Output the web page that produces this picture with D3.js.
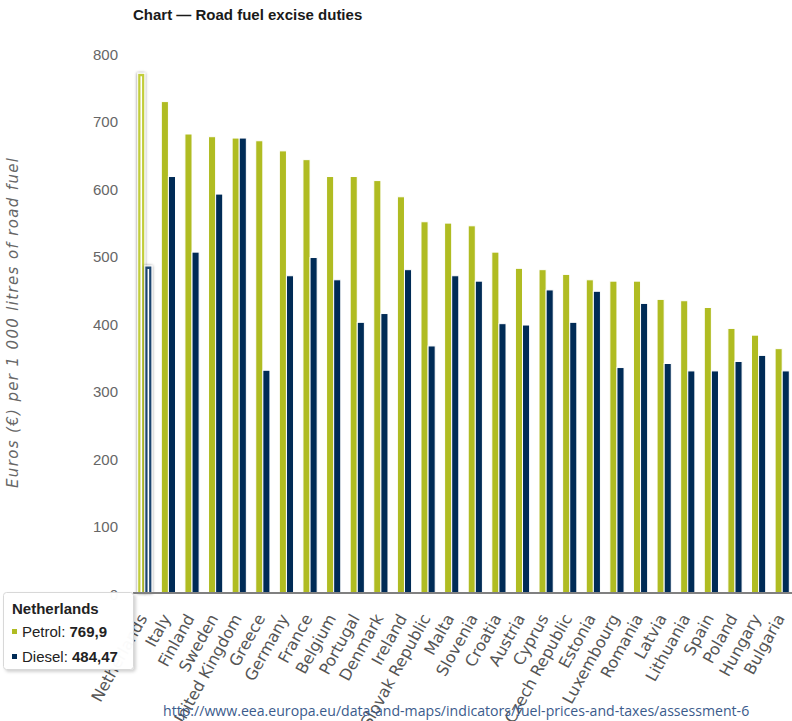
<!DOCTYPE html>
<html>
<head>
<meta charset="utf-8">
<script src="https://cdn.jsdelivr.net/npm/d3@7"></script>
<style>
  html, body { margin: 0; padding: 0; background: #fff; }
  svg { display: block; }
</style>
</head>
<body>
<svg id="chart" width="792" height="721"></svg>
<script>
const countries = ["Netherlands","Italy","Finland","Sweden","United Kingdom","Greece","Germany","France","Belgium","Portugal","Denmark","Ireland","Slovak Republic","Malta","Slovenia","Croatia","Austria","Cyprus","Czech Republic","Estonia","Luxembourg","Romania","Latvia","Lithuania","Spain","Poland","Hungary","Bulgaria"];
const petrol = [769.9, 728, 680, 676, 674, 670, 655, 642, 617, 617, 611, 587, 550, 548, 544, 505, 481, 479, 472, 464, 462, 462, 435, 433, 423, 392, 382, 362];
const diesel = [484.47, 617, 505, 591, 674, 330, 470, 497, 464, 401, 414, 479, 366, 470, 462, 399, 397, 449, 401, 447, 334, 429, 340, 329, 329, 343, 352, 329];
const seriesNames = ["Petrol", "Diesel"];
const yTicks = [0, 100, 200, 300, 400, 500, 600, 700, 800];
const titleText = "Chart \u2014 Road fuel excise duties";
const yTitle = "Euros (\u20ac) per 1 000 litres of road fuel";
const sourceUrl = "http://www.eea.europa.eu/data-and-maps/indicators/fuel-prices-and-taxes/assessment-6";
const highlighted = "Netherlands";

const colors = { Petrol: "#b0bc22", Diesel: "#002b56" };
const hoverColors = { Petrol: "#c2cd3a", Diesel: "#1a4470" };

const svg = d3.select("#chart");
const defs = svg.append("defs");
const f = defs.append("filter").attr("id", "glow").attr("x", "-100%").attr("y", "-10%").attr("width", "300%").attr("height", "120%");
f.append("feGaussianBlur").attr("in", "SourceAlpha").attr("stdDeviation", 1.8).attr("result", "b");
f.append("feFlood").attr("flood-color", "#000").attr("flood-opacity", 0.5);
f.append("feComposite").attr("in2", "b").attr("operator", "in").attr("result", "s");
const fm = f.append("feMerge");
fm.append("feMergeNode").attr("in", "s");
fm.append("feMergeNode").attr("in", "SourceGraphic");

const tf = defs.append("filter").attr("id", "tipshadow").attr("x", "-10%").attr("y", "-10%").attr("width", "130%").attr("height", "130%");
tf.append("feGaussianBlur").attr("in", "SourceAlpha").attr("stdDeviation", 1.5).attr("result", "b");
tf.append("feOffset").attr("dx", 1.5).attr("dy", 1.5).attr("result", "o");
tf.append("feFlood").attr("flood-color", "#000").attr("flood-opacity", 0.18);
tf.append("feComposite").attr("in2", "o").attr("operator", "in").attr("result", "s");
const tm = tf.append("feMerge");
tm.append("feMergeNode").attr("in", "s");
tm.append("feMergeNode").attr("in", "SourceGraphic");

const plot = { left: 133, right: 794, top: 53, bottom: 593 };

const x = d3.scaleBand().domain(countries).range([plot.left, plot.right]).paddingInner(0).paddingOuter(0);
const xs = d3.scaleBand().domain(seriesNames).range([0, x.bandwidth()]).paddingInner(0).paddingOuter(0.662);
const y = d3.scaleLinear().domain([0, 800]).range([plot.bottom, plot.top]);

const rows = countries.map((c, i) => ({ country: c, Petrol: petrol[i], Diesel: diesel[i] }));

// Title
svg.append("text")
  .attr("x", 133).attr("y", 20)
  .attr("font-family", "'Liberation Sans', Arial, sans-serif")
  .attr("font-size", 15).attr("font-weight", "bold").attr("fill", "#1a1a1a")
  .text(titleText);

// Y axis (labels only)
const yAxis = d3.axisLeft(y).tickValues(yTicks).tickSize(0).tickPadding(0).tickFormat(d3.format("d"));
const gy = svg.append("g").attr("transform", "translate(118,0)").call(yAxis);
gy.select(".domain").remove();
gy.selectAll("text")
  .attr("font-family", "'Liberation Sans', Arial, sans-serif")
  .attr("font-size", 15).attr("fill", "#666").attr("dy", "0.4em");

// Y title
svg.append("text")
  .attr("transform", `translate(18,${(plot.top + plot.bottom) / 2}) rotate(-90)`)
  .attr("text-anchor", "middle")
  .attr("font-family", "'DejaVu Sans', Verdana, sans-serif")
  .attr("font-size", 15).attr("font-style", "italic").attr("fill", "#666")
  .attr("textLength", 330).attr("lengthAdjust", "spacing")
  .text(yTitle);

// Bars
const groups = svg.append("g").selectAll("g").data(rows).join("g")
  .attr("transform", d => `translate(${x(d.country)},0)`);

groups.selectAll("rect")
  .data(d => seriesNames.map(s => ({ s, v: d[s], hl: d.country === highlighted })))
  .join("rect")
  .attr("x", d => xs(d.s))
  .attr("y", d => y(d.v))
  .attr("width", xs.bandwidth())
  .attr("height", d => y(0) - y(d.v))
  .attr("fill", d => d.hl ? hoverColors[d.s] : colors[d.s])
  .attr("stroke", "#fff").attr("stroke-width", 1)
  .attr("filter", d => d.hl ? "url(#glow)" : null);

// highlight inner stripe
groups.filter(d => d.country === highlighted).selectAll("line.hl")
  .data(d => seriesNames.map(s => ({ s, v: d[s] })))
  .join("line").attr("class", "hl")
  .attr("x1", d => xs(d.s) + xs.bandwidth() / 2)
  .attr("x2", d => xs(d.s) + xs.bandwidth() / 2)
  .attr("y1", d => y(d.v) + 3)
  .attr("y2", y(0))
  .attr("stroke", "#fff").attr("stroke-width", 1.6);

// X axis
const xAxis = d3.axisBottom(x).tickSize(0).tickPadding(0);
const gx = svg.append("g").attr("transform", `translate(0,${plot.bottom})`).call(xAxis);
gx.select(".domain").attr("stroke", "#808080").attr("stroke-width", 2)
  .attr("d", `M${plot.left},0H792`);
gx.selectAll(".tick text")
  .attr("font-family", "'DejaVu Sans', Verdana, sans-serif")
  .attr("font-size", 16).attr("fill", "#555")
  .attr("text-anchor", "end")
  .attr("dy", "0")
  .attr("y", 0)
  .attr("transform", "translate(3,25) rotate(-61)");

// Source URL
const url = svg.append("text")
  .attr("x", 163).attr("y", 716)
  .attr("font-family", "'Open Sans', sans-serif")
  .attr("font-size", 14).attr("fill", "#3b5b8c")
  .text(sourceUrl);
const targetW = 587;
const w0 = url.node().getComputedTextLength();
url.attr("font-size", 14 * targetW / w0);

// Tooltip
const fmt = v => String(v).replace(".", ",");
const hi = rows.find(r => r.country === highlighted);
const tip = svg.append("g");
tip.append("rect")
  .attr("x", 3.5).attr("y", 592.5).attr("width", 130).attr("height", 77).attr("rx", 3)
  .attr("fill", "#fff").attr("fill-opacity", 0.97)
  .attr("stroke", "#d8d8d8").attr("stroke-width", 1)
  .attr("filter", "url(#tipshadow)");
const tfont = "'Liberation Sans', Arial, sans-serif";
tip.append("text").attr("x", 12).attr("y", 614)
  .attr("font-family", tfont).attr("font-size", 15).attr("font-weight", "bold").attr("fill", "#222")
  .text(hi.country);
seriesNames.forEach((s, i) => {
  const by = 637 + i * 25;
  tip.append("rect").attr("x", 12).attr("y", by - 8).attr("width", 5).attr("height", 5).attr("fill", colors[s]);
  const t = tip.append("text").attr("x", 22).attr("y", by)
    .attr("font-family", tfont).attr("font-size", 15).attr("fill", "#222");
  t.append("tspan").text(s + ": ");
  t.append("tspan").attr("font-weight", "bold").text(fmt(hi[s]));
});
</script>
</body>
</html>
